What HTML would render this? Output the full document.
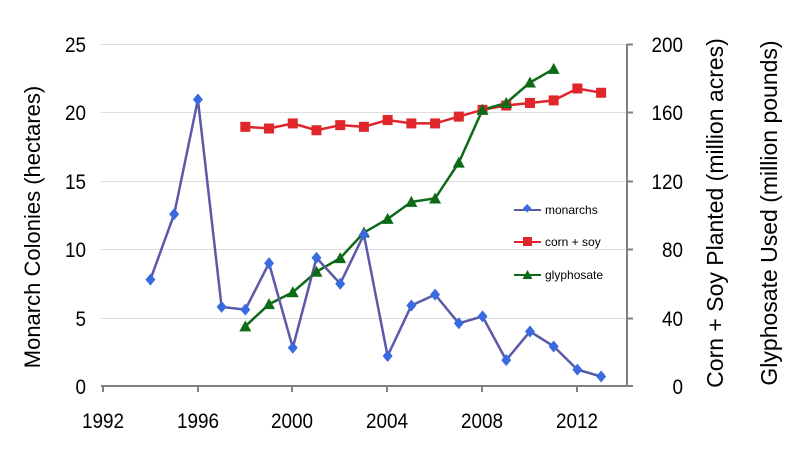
<!DOCTYPE html>
<html><head><meta charset="utf-8"><style>
html,body{margin:0;padding:0;background:#fff;}
svg{display:block;font-family:"Liberation Sans",Arial,sans-serif;}
</style></head><body>
<svg id="s" width="800" height="471" viewBox="0 0 800 471" xmlns="http://www.w3.org/2000/svg">
<rect width="800" height="471" fill="#fff"/>
<g stroke="#dcdcdc" stroke-width="1">
<line x1="101" y1="44.5" x2="627" y2="44.5"/>
<line x1="101" y1="112.5" x2="627" y2="112.5"/>
<line x1="101" y1="181.5" x2="627" y2="181.5"/>
<line x1="101" y1="249.5" x2="627" y2="249.5"/>
<line x1="101" y1="318.5" x2="627" y2="318.5"/>
</g>
<g stroke="#808080" stroke-width="2" fill="none">
<line x1="101" y1="386" x2="628" y2="386"/>
<line x1="627" y1="44" x2="627" y2="386"/>
<line x1="627" y1="44.5" x2="633" y2="44.5"/>
<line x1="627" y1="112.5" x2="633" y2="112.5"/>
<line x1="627" y1="181.5" x2="633" y2="181.5"/>
<line x1="627" y1="249.5" x2="633" y2="249.5"/>
<line x1="627" y1="318.5" x2="633" y2="318.5"/>
<line x1="627" y1="386" x2="633" y2="386"/>
<line x1="103" y1="386" x2="103" y2="392"/>
<line x1="198" y1="386" x2="198" y2="392"/>
<line x1="292" y1="386" x2="292" y2="392"/>
<line x1="387" y1="386" x2="387" y2="392"/>
<line x1="482" y1="386" x2="482" y2="392"/>
<line x1="577" y1="386" x2="577" y2="392"/>
</g>
<g font-size="21" fill="#000" text-anchor="end" transform="translate(86,0) scale(0.9,1)">
<text x="0" y="52">25</text><text x="0" y="120">20</text><text x="0" y="189">15</text>
<text x="0" y="257">10</text><text x="0" y="326">5</text><text x="0" y="394">0</text>
</g>
<g font-size="21" fill="#000" text-anchor="end" transform="translate(683,0) scale(0.9,1)">
<text x="0" y="52">200</text><text x="0" y="120">160</text><text x="0" y="189">120</text>
<text x="0" y="257">80</text><text x="0" y="326">40</text><text x="0" y="394">0</text>
</g>
<g font-size="21" fill="#000" text-anchor="middle">
<text transform="translate(103,428) scale(0.9,1)">1992</text>
<text transform="translate(198,428) scale(0.9,1)">1996</text>
<text transform="translate(292,428) scale(0.9,1)">2000</text>
<text transform="translate(387,428) scale(0.9,1)">2004</text>
<text transform="translate(482,428) scale(0.9,1)">2008</text>
<text transform="translate(577,428) scale(0.9,1)">2012</text>
</g>
<text font-size="22" transform="translate(40,227) rotate(-90)" text-anchor="middle">Monarch Colonies (hectares)</text>
<text font-size="23" transform="translate(723,213) rotate(-90)" text-anchor="middle">Corn + Soy Planted (million acres)</text>
<text font-size="23" transform="translate(777,213) rotate(-90)" text-anchor="middle">Glyphosate Used (million pounds)</text>
<g id="series"></g>
<g font-size="12" fill="#000">
<line x1="514" y1="210" x2="541" y2="210" stroke="#5a5aa8" stroke-width="2"/>
<rect x="523" y="206" width="6" height="6" fill="#3a6ae0" transform="rotate(45 527.5 210)"/>
<text x="545" y="214">monarchs</text>
<line x1="514" y1="242" x2="541" y2="242" stroke="#e0262b" stroke-width="2"/>
<rect x="523" y="237" width="9" height="9" fill="#e0262b"/>
<text x="545" y="246">corn + soy</text>
<line x1="514" y1="275" x2="541" y2="275" stroke="#0d6a18" stroke-width="2"/>
<polygon points="527.5,270 532.5,279 522.5,279" fill="#0d6a18"/>
<text x="545" y="279">glyphosate</text>
</g>
</svg>
<script>
var X=function(y){return 103+23.72*(y-1992);};
var YL=function(v){return 386-v*341/25;};
var YR=function(v){return 386-v*341/200;};
var mon=[[1994,7.8],[1995,12.6],[1996,21.0],[1997,5.8],[1998,5.6],[1999,9.0],[2000,2.8],[2001,9.4],[2002,7.5],[2003,11.1],[2004,2.2],[2005,5.9],[2006,6.7],[2007,4.6],[2008,5.1],[2009,1.9],[2010,4.0],[2011,2.9],[2012,1.2],[2013,0.7]];
var corn=[[1998,152],[1999,151],[2000,154],[2001,150],[2002,153],[2003,152],[2004,156],[2005,154],[2006,154],[2007,158],[2008,162],[2009,164.5],[2010,166],[2011,167.5],[2012,174.5],[2013,172]];
var gly=[[1998,35],[1999,48],[2000,55],[2001,67],[2002,75],[2003,90],[2004,98],[2005,108],[2006,110],[2007,131],[2008,162],[2009,166],[2010,178],[2011,186]];
var g=document.getElementById('series'),h='';
function line(d,f,c){return '<polyline fill="none" stroke="'+c+'" stroke-width="2.5" points="'+d.map(function(p){return X(p[0]).toFixed(1)+','+f(p[1]).toFixed(1);}).join(' ')+'"/>';}
h+=line(corn,YR,'#e0262b');
h+=line(gly,YR,'#0d6a18');
h+=line(mon,YL,'#5a5aa8');
corn.forEach(function(p){var x=X(p[0]),y=YR(p[1]);h+='<rect x="'+(x-5)+'" y="'+(y-5)+'" width="10" height="10" fill="#e0262b"/>';});
gly.forEach(function(p){var x=X(p[0]),y=YR(p[1]);h+='<polygon points="'+x+','+(y-6)+' '+(x+6)+','+(y+5)+' '+(x-6)+','+(y+5)+'" fill="#0d6a18"/>';});
mon.forEach(function(p){var x=X(p[0]),y=YL(p[1]);h+='<polygon points="'+x+','+(y-6)+' '+(x+5)+','+y+' '+x+','+(y+6)+' '+(x-5)+','+y+'" fill="#3a6ae0"/>';});
g.innerHTML=h;
</script>
</body></html>
